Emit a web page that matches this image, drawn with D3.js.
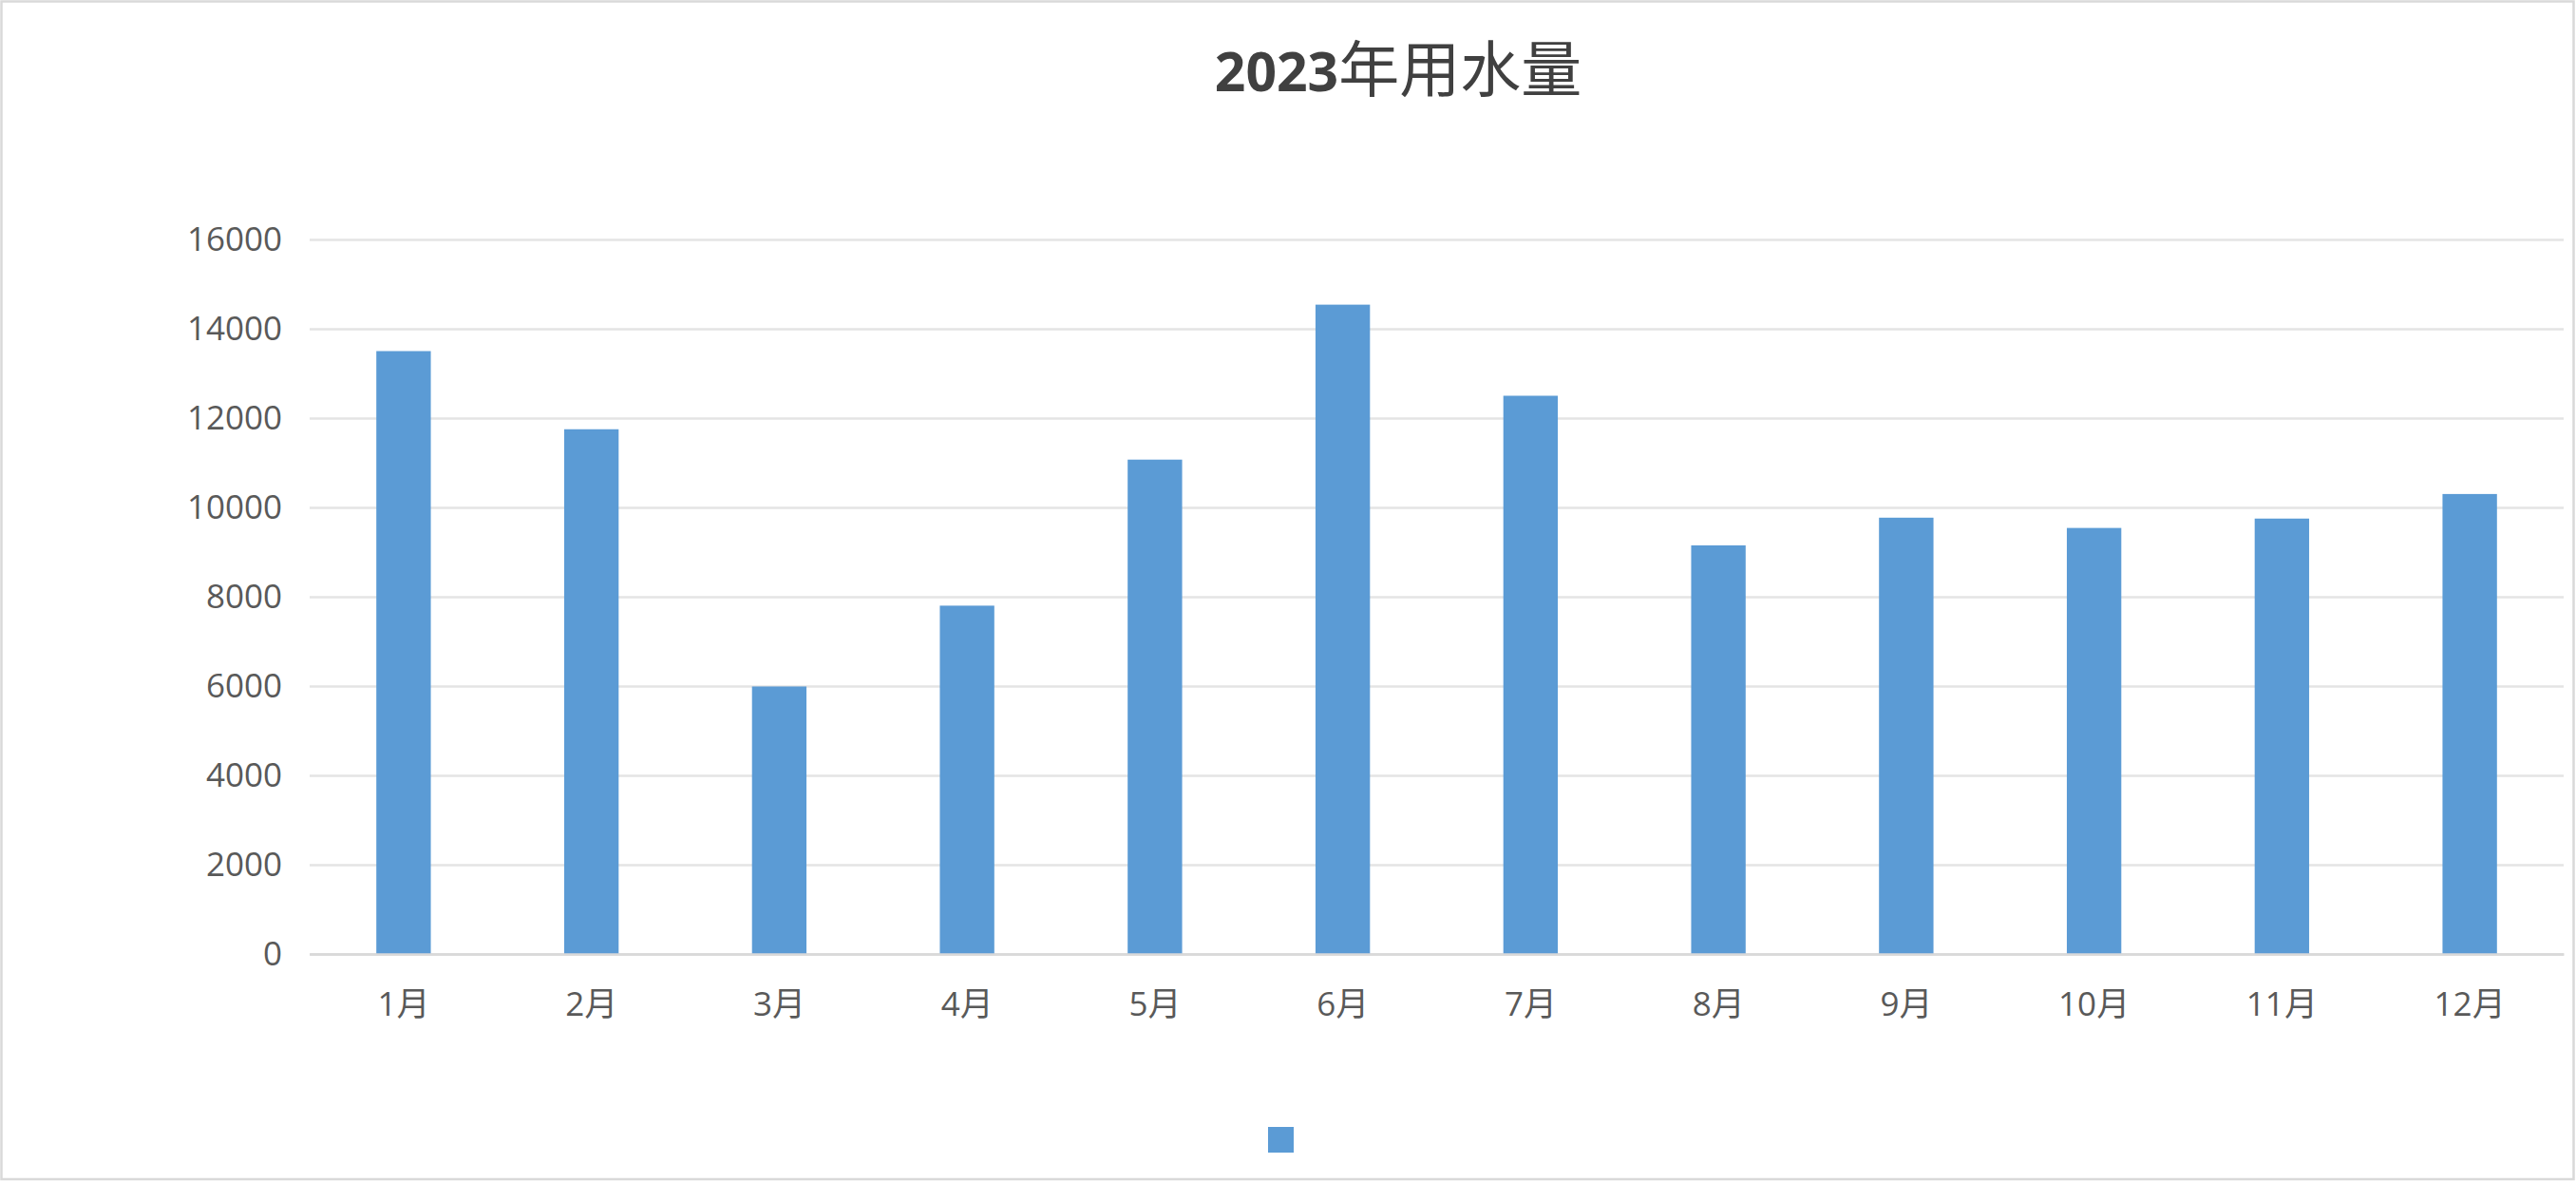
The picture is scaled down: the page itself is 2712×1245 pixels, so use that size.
<!DOCTYPE html>
<html>
<head>
<meta charset="utf-8">
<script src="https://cdn.jsdelivr.net/npm/d3@7"></script>
<style>
  body { margin: 0; background: #fff; overflow: hidden; }
  svg { display: block; }
</style>
</head>
<body>
<div id="chart"></div>
<script>
// data
const months = ["1月", "2月", "3月", "4月", "5月", "6月", "7月", "8月", "9月", "10月", "11月", "12月"];
const usage = [13500, 11750, 5990, 7800, 11070, 14540, 12500, 9150, 9770, 9540, 9750, 10300];
const yTicks = [0, 2000, 4000, 6000, 8000, 10000, 12000, 14000, 16000];
const seriesName = "";
const titleYear = "2023";
const titleRest = "年用水量";

const W = 2712, H = 1245;
const margin = { top: 252, left: 326, right: 13, bottom: 241 };
const plotW = W - margin.left - margin.right;
const plotH = H - margin.top - margin.bottom;

const svg = d3.select("#chart").append("svg")
    .attr("width", W)
    .attr("height", H);

// outer frame
svg.append("rect")
    .attr("x", 1.5).attr("y", 1.5)
    .attr("width", 2708).attr("height", 1239.5)
    .attr("fill", "#fff")
    .attr("stroke", "#d9d9d9")
    .attr("stroke-width", 2.5);

// title
const title = svg.append("text")
    .attr("x", 1472).attr("y", 96)
    .attr("text-anchor", "middle")
    .attr("fill", "#404040");
title.append("tspan")
    .style("font-family", "'Open Sans', sans-serif")
    .style("font-weight", "bold")
    .style("font-size", "57px")
    .text(titleYear);
title.append("tspan")
    .style("font-family", "'Noto Sans CJK SC', sans-serif")
    .style("font-size", "64px")
    .text(titleRest);

const g = svg.append("g")
    .attr("transform", `translate(${margin.left},${margin.top})`);

const x = d3.scaleBand()
    .domain(months)
    .range([0, plotW])
    .paddingInner(0.71)
    .paddingOuter(0.355);

const y = d3.scaleLinear()
    .domain([0, 16000])
    .range([plotH, 0]);

// y axis with gridlines
const yAxis = g.append("g")
    .call(d3.axisLeft(y).tickValues(yTicks).tickFormat(d3.format("d"))
        .tickSize(-plotW).tickPadding(29));
yAxis.select(".domain").remove();
yAxis.selectAll(".tick line")
    .attr("stroke", d => d === 0 ? "#d9d9d9" : "#e4e4e4")
    .attr("stroke-width", 2.6);
yAxis.selectAll(".tick text")
    .attr("fill", "#595959")
    .style("font-family", "'Open Sans', sans-serif")
    .style("font-size", "35px");

// bars
g.selectAll("rect.bar")
    .data(usage)
    .join("rect")
    .attr("class", "bar")
    .attr("x", (d, i) => x(months[i]))
    .attr("width", x.bandwidth())
    .attr("y", d => y(d))
    .attr("height", d => y(0) - y(d))
    .attr("fill", "#5b9bd5");

// x axis
const xAxis = g.append("g")
    .attr("transform", `translate(0,${plotH})`)
    .call(d3.axisBottom(x).tickSize(0).tickPadding(40));
xAxis.select(".domain")
    .attr("stroke", "#d9d9d9")
    .attr("stroke-width", 2.6);
xAxis.selectAll(".tick text")
    .attr("fill", "#595959")
    .style("font-family", "'Open Sans', 'Noto Sans CJK SC', sans-serif")
    .style("font-size", "35px");

// legend (series has no name)
const legend = svg.append("g")
    .attr("transform", "translate(1335,1186)");
legend.append("rect")
    .attr("width", 27).attr("height", 27)
    .attr("fill", "#5b9bd5");
legend.append("text")
    .attr("x", 35).attr("y", 22)
    .attr("fill", "#595959")
    .style("font-family", "'Open Sans', sans-serif")
    .style("font-size", "35px")
    .text(seriesName);
</script>
</body>
</html>
